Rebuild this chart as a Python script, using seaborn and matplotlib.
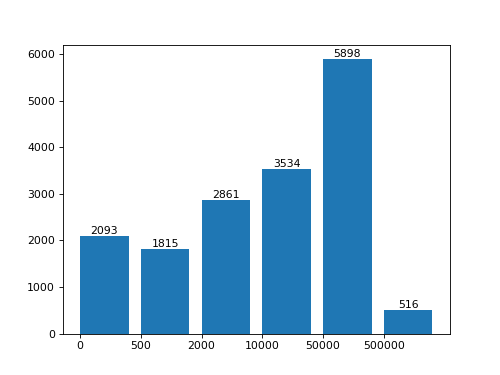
import numpy as np
import matplotlib
matplotlib.use("Agg")
import matplotlib.pyplot as plt
import seaborn as sns

# bins labels and counts
bin_labels = ["0", "500", "2000", "10000", "50000", "500000"]
counts = [2093, 1815, 2861, 3534, 5898, 516]

fig, ax = plt.subplots(figsize=(6.4, 4.8), dpi=78.125)
sns.barplot(x=bin_labels, y=counts, order=bin_labels, color="#1f77b4",
            saturation=1, width=0.8, ax=ax)

# ticks sit on left edges of the bars
pos = np.arange(len(bin_labels))
ax.set_xticks(pos - 0.4, bin_labels)
ax.set_xlim(-0.69, len(bin_labels) - 1 + 0.69)
ax.bar_label(ax.containers[0])

plt.savefig("out.png")
plt.close()
